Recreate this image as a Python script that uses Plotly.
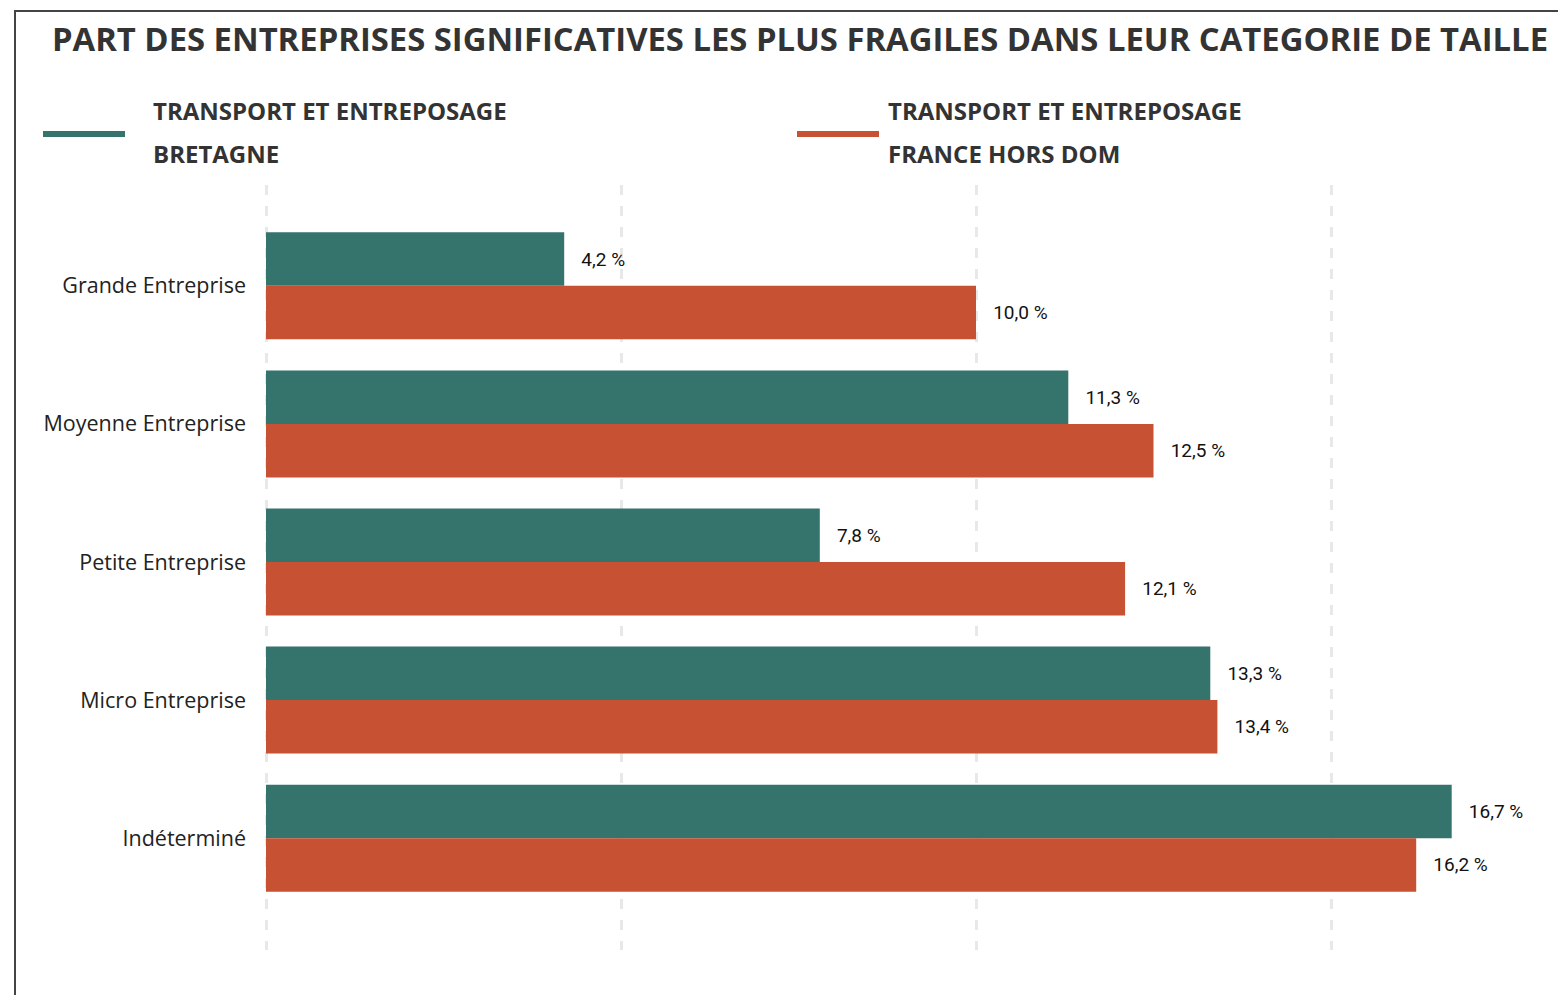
import plotly.graph_objects as go

# data
categories = ["Grande Entreprise", "Moyenne Entreprise", "Petite Entreprise",
              "Micro Entreprise", "Indéterminé"]
bretagne = [4.2, 11.3, 7.8, 13.3, 16.7]
france = [10.0, 12.5, 12.1, 13.4, 16.2]
series_lines = [["TRANSPORT ET ENTREPOSAGE", "BRETAGNE"],
                ["TRANSPORT ET ENTREPOSAGE", "FRANCE HORS DOM"]]

GREEN = "#35736D"
RED = "#C65133"

# page has an 8px body margin, so the figure is a bit smaller and shifted
OFF = 8
W, H = 1566 - OFF, 995 - OFF
K = 71.0  # px per unit on x
XMIN = -2 / K
ML = 258 - 2
MT, MB = 185 - OFF, H - (950 - OFF)
MR = 0
pw = W - ML - MR
ph = H - MT - MB


def fmt(v):
    return "\u00a0\u00a0\u00a0" + f"{v:.1f}".replace(".", ",") + " %"


def px_x(p):  # screen px -> paper
    return (p - OFF - ML) / pw


def px_y(p):
    return (H - MB - (p - OFF)) / ph


fig = go.Figure()
for vals, col, name in [(bretagne, GREEN, " ".join(series_lines[0])),
                        (france, RED, " ".join(series_lines[1]))]:
    fig.add_trace(go.Bar(
        y=categories, x=vals, orientation="h", name=name,
        marker=dict(color=col, line=dict(width=0)),
        text=[fmt(v) for v in vals], textposition="outside",
        textfont=dict(family="Roboto", size=19, color="#111"),
        cliponaxis=False, showlegend=False,
    ))

fig.update_layout(
    width=W, height=H,
    margin=dict(l=ML, r=MR, t=MT, b=MB),
    paper_bgcolor="white", plot_bgcolor="white",
    barmode="group", bargap=0.225, bargroupgap=0,
    title=dict(text="<b>PART DES ENTREPRISES SIGNIFICATIVES LES PLUS FRAGILES DANS LEUR CATEGORIE DE TAILLE</b>",
               x=(800 - OFF) / W, xanchor="center", y=1 - (40 - OFF) / H, yanchor="middle",
               font=dict(family="Open Sans", size=32.8, color="#333")),
    font=dict(family="Open Sans"),
)
fig.update_xaxes(range=[XMIN, XMIN + pw / K], tick0=0, dtick=5, showticklabels=False,
                 showgrid=True, gridcolor="#e8e8e8", gridwidth=2.5, griddash="10px,11px",
                 zeroline=False, showline=False)
fig.update_yaxes(range=[4.81, -0.73], showgrid=False, zeroline=False, showline=False,
                 ticks="", ticklabelstandoff=17,
                 tickfont=dict(family="Open Sans", size=21.5, color="#222"))

# legend drawn by hand: swatch line + two-line label
legend_items = [(43, 125, 151, GREEN, series_lines[0]), (797, 879, 886, RED, series_lines[1])]
for x0, x1, xt, col, lines in legend_items:
    fig.add_shape(type="line", xref="paper", yref="paper",
                  x0=px_x(x0), x1=px_x(x1), y0=px_y(134), y1=px_y(134),
                  line=dict(color=col, width=6))
    for yy, txt in zip([111, 154], lines):
        fig.add_annotation(xref="paper", yref="paper", x=px_x(xt), y=px_y(yy),
                           xanchor="left", yanchor="middle", align="left", showarrow=False,
                           text="<b>" + txt + "</b>",
                           font=dict(family="Open Sans", size=24, color="#333"))

# frame lines at top and left
fig.add_shape(type="line", xref="paper", yref="paper", x0=px_x(15), x1=px_x(15),
              y0=px_y(10), y1=px_y(1000), line=dict(color="#444", width=2))
fig.add_shape(type="line", xref="paper", yref="paper", x0=px_x(14), x1=px_x(1580),
              y0=px_y(11), y1=px_y(11), line=dict(color="#444", width=2))

fig.write_html("out.html")
